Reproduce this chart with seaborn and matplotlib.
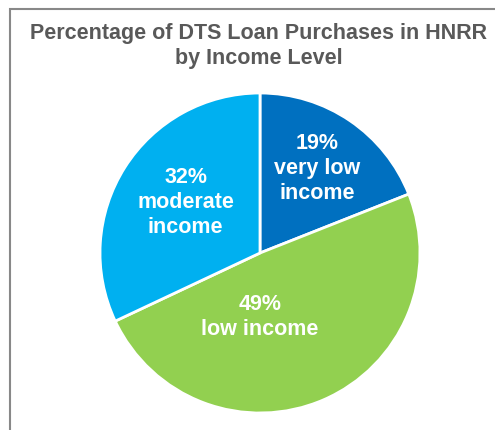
import matplotlib
matplotlib.use("Agg")
import matplotlib.pyplot as plt
import seaborn as sns
import numpy as np
from matplotlib.patches import Rectangle

categories = ["very low\nincome", "low income", "moderate\nincome"]
values = [19, 49, 32]
colors = ["#0070C0", "#92D050", "#00B0F0"]
title = "Percentage of DTS Loan Purchases in HNRR\nby Income Level"

sns.set_theme(style="white")
plt.rcParams["font.family"] = ["Liberation Sans", "DejaVu Sans"]

W, H = 495, 430
fig = plt.figure(figsize=(W / 100, H / 100), dpi=100)

# frame (left/top visible, extends beyond image)
fig.patches.append(Rectangle((10 / W, -0.1), 1.2, (H - 9) / H + 0.1,
                             transform=fig.transFigure, fill=False,
                             edgecolor="#888888", linewidth=1.5))

cx, cy, R = 260, 253, 160
ax = fig.add_axes([(cx - R) / W, (H - cy - R) / H, 2 * R / W, 2 * R / H])
wedges, _ = ax.pie(values, colors=colors, startangle=90, counterclock=False,
                   radius=1.0, wedgeprops=dict(edgecolor="white", linewidth=2))
ax.set_xlim(-1, 1)
ax.set_ylim(-1, 1)
ax.set_aspect("equal")
ax.axis("off")

# label placement (angle deg, radius fraction) per slice
label_pos = [(56, 0.64), (270, 0.40), (146, 0.56)]
for (ang, r), cat, v in zip(label_pos, categories, values):
    x = r * np.cos(np.radians(ang))
    y = r * np.sin(np.radians(ang))
    ax.text(x, y, f"{v}%\n{cat}", ha="center", va="center", color="white",
            fontsize=15.5, fontweight="bold", linespacing=1.25)

fig.text(259 / W, 1 - 46 / H, title, ha="center", va="center",
         fontsize=15.5, fontweight="bold", color="#595959", linespacing=1.2)

fig.savefig("out.png", dpi=100)
